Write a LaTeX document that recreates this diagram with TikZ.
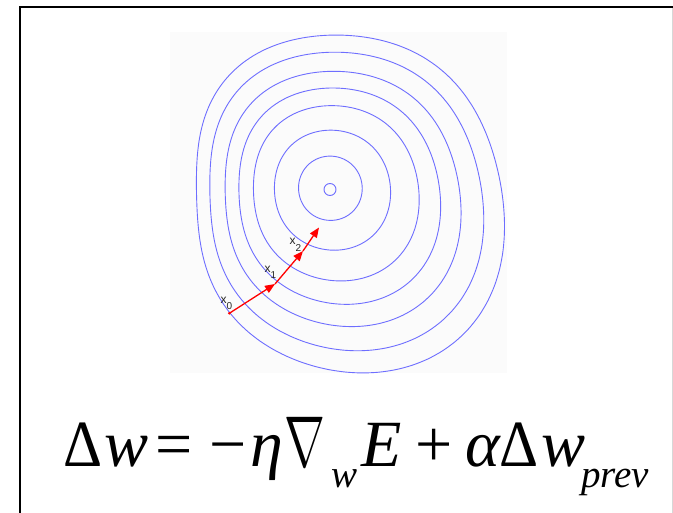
\documentclass[tikz,border=0pt]{standalone}
\usepackage{fontspec}
\setmainfont{Liberation Serif}
\newfontfamily\lsans{Liberation Sans}
\usetikzlibrary{arrows.meta}
\definecolor{ringblue}{RGB}{110,110,255}
\definecolor{imgbg}{RGB}{251,251,251}
\definecolor{framegray}{RGB}{215,215,215}
\begin{document}
\begin{tikzpicture}[x=1pt,y=-1pt,
  declare function={rr(\t)=163.3+19*cos(\t)+12.5*sin(\t)-7.4*cos(2*\t)+7.2*sin(2*\t)-3.35*cos(4*\t);},
  isoline/.style={draw=ringblue,line width=0.9pt},
  steparrow/.style={draw=red,line width=1.3pt,-{Triangle[length=10pt,width=8pt,fill=red]}},
  ptlabel/.style={font=\lsans\fontsize{12}{12}\selectfont,text=black!85,inner sep=0,anchor=base west},
  eqp/.style={anchor=base west,inner sep=0,font=\fontsize{66}{76}\selectfont},
  eqs/.style={anchor=base west,inner sep=0,font=\fontsize{39}{44}\selectfont}]
\useasboundingbox (0,0) rectangle (673,513);
\fill[white] (0,0) rectangle (673,513);
\fill[imgbg] (170,32) rectangle (507,373);
% contour lines
\foreach \m/\w/\cy in {32/0.1/188,59/0.35/188.5,85/0.6/189,104/0.75/189.5,122/0.85/190,142/0.93/190,160/1/190}{
  \draw[isoline] plot[domain=0:355,samples=72,smooth cycle]
    ({330+\m*((1-\w)+\w*rr(\x)/160)*cos(\x)},{\cy+\m*((1-\w)+\w*rr(\x)/160)*sin(\x)});
}
\draw[isoline] (330,189.5) circle (6);
% descent steps
\coordinate (x0) at (229.3,313.3);
\coordinate (x1) at (275,284);
\coordinate (x2) at (303,251);
\coordinate (x3) at (319,227.5);
\draw[steparrow] (x0) -- (x1);
\draw[steparrow] (x1) -- (x2);
\draw[steparrow] (x2) -- (x3);
\fill[red] (x0) circle (1.4);
\node[ptlabel] (lx0) at (220.5,303.3) {x\raisebox{-6.5pt}{\fontsize{10}{10}\selectfont 0}};
\node[ptlabel] (lx1) at (264.5,272.3) {x\raisebox{-6.5pt}{\fontsize{10}{10}\selectfont 1}};
\node[ptlabel] (lx2) at (289.5,245) {x\raisebox{-6.5pt}{\fontsize{10}{10}\selectfont 2}};
% frame
\draw[framegray,line width=1pt] (672,7) -- (672,513);
\draw[black,line width=2pt] (20,513) -- (20,7) -- (673,7);
% formula
\node[eqp] (e1) at (63,467) {\scalebox{0.92}[1]{Δ}};
\node[eqp] (e2) at (104.5,467) {\textit{w}};
\node[eqp] (e3) at (155,467) {=};
\node[eqp] (e4) at (209,467) {−};
\node[eqp] (e5) at (250,467) {\textit{η}};
\node[anchor=base west,inner sep=0,font=\fontsize{10}{12}\selectfont] (e6) at (284.5,467) {\scalebox{4.9}[7.2]{$\nabla$}};
\node[eqs] (e7) at (331,487) {\textit{w}};
\node[eqp] (e8) at (361,467) {\textit{E}};
\node[eqp] (e9) at (415,467) {+};
\node[eqp] (e10) at (465,467) {\textit{α}};
\node[eqp] (e11) at (499.5,467) {\scalebox{0.92}[1]{Δ}};
\node[eqp] (e12) at (541,467) {\textit{w}};
\node[eqs] (e13) at (581,487) {\textit{prev}};
\end{tikzpicture}
\end{document}
